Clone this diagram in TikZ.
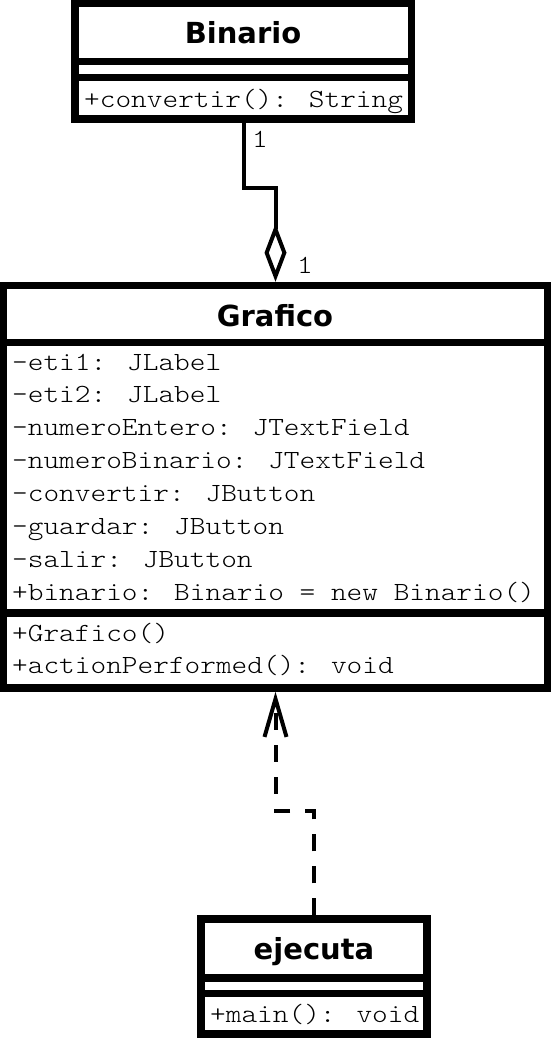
\documentclass[tikz,border=0pt]{standalone}
\usepackage{fontspec}
\usetikzlibrary{arrows.meta}
\newfontfamily\monof[FakeStretch=1.14]{Latin Modern Mono Light}
\newfontfamily\titlef{DejaVu Sans}
\begin{document}
\begin{tikzpicture}[x=1pt,y=-1pt,
  classbox/.style={draw,line width=7.5pt,inner sep=0pt,fill=white},
  divider/.style={line width=7.5pt},
  title/.style={font=\titlef\bfseries\fontsize{29}{32}\selectfont,inner sep=0pt,anchor=base},
  member/.style={font=\monof\fontsize{26.2}{30}\selectfont,inner sep=0pt,anchor=base west},
  mult/.style={font=\monof\fontsize{26.2}{30}\selectfont,inner sep=0pt,anchor=base},
  conn/.style={line width=4pt}
]
\useasboundingbox (0,0) rectangle (551,1038);
% Binario
\node[classbox,minimum width=336.5pt,minimum height=115.5pt] (binario) at (243.25,61.25) {};
\draw[divider] (binario.west |- 0,61.5) -- (binario.east |- 0,61.5);
\draw[divider] (binario.west |- 0,77.5) -- (binario.east |- 0,77.5);
\node[title] (binT) at (243,44) {Binario};
\node[member] (binM1) at (84,108) {+convertir(): String};
% Grafico
\node[classbox,minimum width=544pt,minimum height=402.5pt] (grafico) at (275.5,486.75) {};
\draw[divider] (grafico.west |- 0,342.5) -- (grafico.east |- 0,342.5);
\draw[divider] (grafico.west |- 0,613) -- (grafico.east |- 0,613);
\node[title] (graT) at (275,326) {Grafico};
\node[member] (gA1) at (12,370) {-eti1: JLabel};
\node[member] (gA2) at (12,402.9) {-eti2: JLabel};
\node[member] (gA3) at (12,435.7) {-numeroEntero: JTextField};
\node[member] (gA4) at (12,468.6) {-numeroBinario: JTextField};
\node[member] (gA5) at (12,501.4) {-convertir: JButton};
\node[member] (gA6) at (12,534.3) {-guardar: JButton};
\node[member] (gA7) at (12,567.1) {-salir: JButton};
\node[member] (gA8) at (12,600) {+binario: Binario = new Binario()};
\node[member] (gM1) at (12,641) {+Grafico()};
\node[member] (gM2) at (12,673.5) {+actionPerformed(): void};
% ejecuta
\node[classbox,minimum width=226pt,minimum height=115pt] (ejecuta) at (314,976.5) {};
\draw[divider] (ejecuta.west |- 0,978) -- (ejecuta.east |- 0,978);
\draw[divider] (ejecuta.west |- 0,993.5) -- (ejecuta.east |- 0,993.5);
\node[title] (ejeT) at (314,959) {ejecuta};
\node[member] (eM1) at (210,1022) {+main(): void};
% aggregation
\draw[conn,{Diamond[open,length=58pt,width=22pt]}-] (grafico.north) |- ++(-31.5,-94) coordinate (c1) -- (c1 |- binario.south);
\node[mult] (m1) at (260,147) {1};
\node[mult] (m2) at (305,273) {1};
% dependency
\draw[conn,dash pattern=on 17pt off 15pt,-{Straight Barb[length=38pt,width=22pt]}] (ejecuta.north) -- ++(0,-104) -| (grafico.south);
\end{tikzpicture}
\end{document}
